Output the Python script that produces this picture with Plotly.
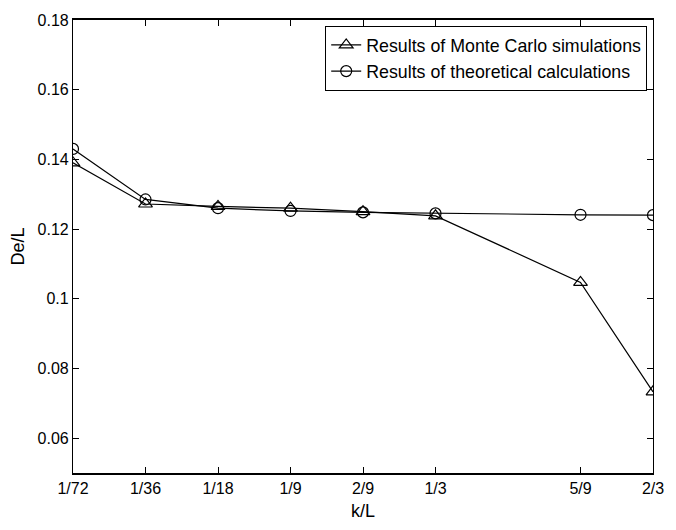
import plotly.graph_objects as go

tick_labels = ["1/72", "1/36", "1/18", "1/9", "2/9", "1/3", "5/9", "2/3"]
x_pos = [0, 1, 2, 3, 4, 5, 7, 8]
monte_carlo = [0.139, 0.1272, 0.1265, 0.126, 0.125, 0.1238, 0.1047, 0.0733]
theoretical = [0.143, 0.1285, 0.126, 0.1252, 0.1248, 0.1245, 0.1241, 0.124]

FONT = "Liberation Sans, Arial"

fig = go.Figure()
fig.add_trace(go.Scatter(
    x=x_pos, y=monte_carlo, mode="lines+markers",
    name="Results of Monte Carlo simulations",
    line=dict(color="black", width=1.2),
    marker=dict(symbol="triangle-up-open", size=12, color="black", line=dict(width=1.2)),
))
fig.add_trace(go.Scatter(
    x=x_pos, y=theoretical, mode="lines+markers",
    name="Results of theoretical calculations",
    line=dict(color="black", width=1.2),
    marker=dict(symbol="circle-open", size=11, color="black", line=dict(width=1.2)),
))

axis_common = dict(
    showline=True, linecolor="black", mirror="ticks", ticks="inside",
    ticklen=6, tickcolor="black", showgrid=False, zeroline=False,
    tickfont=dict(family=FONT, size=16, color="black"),
)
fig.update_xaxes(
    range=[0, 8], tickvals=x_pos, ticktext=tick_labels, linewidth=1.5,
    title=dict(text="k/L", font=dict(family=FONT, size=18, color="black"), standoff=8),
    **axis_common,
)
fig.update_yaxes(
    range=[0.05, 0.18], tickvals=[0.06, 0.08, 0.1, 0.12, 0.14, 0.16, 0.18],
    ticktext=["0.06", "0.08", "0.1", "0.12", "0.14", "0.16", "0.18"], linewidth=1.2,
    title=dict(text="De/L", font=dict(family=FONT, size=18, color="black"), standoff=8),
    **axis_common,
)
fig.update_layout(
    width=676, height=530,
    margin=dict(l=73, r=16, t=12, b=56),
    plot_bgcolor="white", paper_bgcolor="white",
    legend=dict(
        x=0.99, y=0.987, xanchor="right", yanchor="top",
        bordercolor="black", borderwidth=1, bgcolor="white",
        font=dict(family=FONT, size=17.8, color="black"),
        tracegroupgap=0, itemwidth=30,
    ),
)
fig.write_html("out.html")
